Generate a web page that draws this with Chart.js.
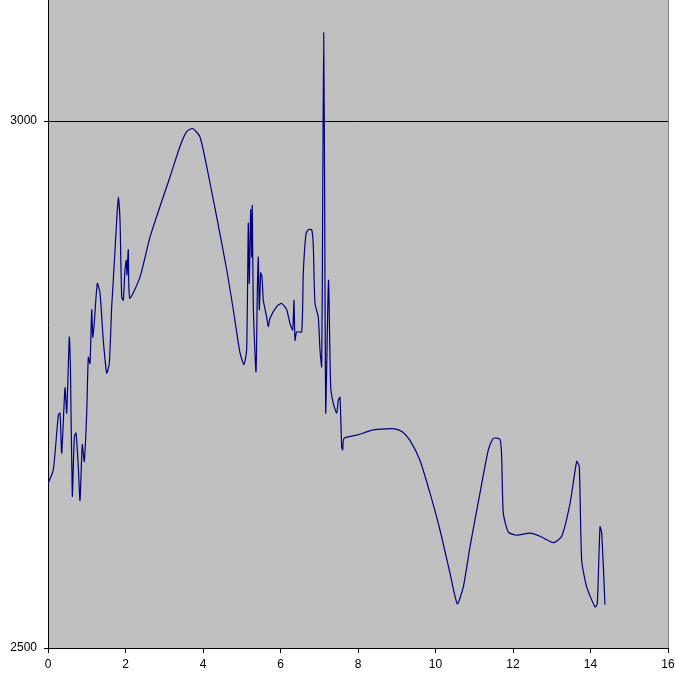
<!DOCTYPE html>
<html>
<head>
<meta charset="utf-8">
<script src="https://cdn.jsdelivr.net/npm/chart.js@4/dist/chart.umd.min.js"></script>
<style>
  html, body { margin: 0; padding: 0; background: #ffffff; }
  #chart { display: block; }
</style>
</head>
<body>
<canvas id="chart" width="675" height="675"></canvas>
<script>
const xValues = [
  0, 0.137, 0.266, 0.31, 0.354, 0.439, 0.483, 0.55, 0.58, 0.627,
  0.679, 0.723, 0.782, 0.826, 0.885, 0.937, 0.999, 1.04, 1.084, 1.128,
  1.154, 1.187, 1.272, 1.342, 1.427, 1.515, 1.582, 1.644, 1.685, 1.773,
  1.814, 1.858, 1.902, 1.943, 1.987, 2.021, 2.039, 2.072, 2.11, 2.374,
  2.632, 2.89, 3.148, 3.406, 3.579, 3.734, 3.923, 4.095, 4.354, 4.612,
  4.782, 4.955, 5.058, 5.127, 5.169, 5.195, 5.231, 5.257, 5.272, 5.298,
  5.368, 5.401, 5.427, 5.453, 5.489, 5.523, 5.556, 5.644, 5.685, 5.729,
  5.902, 6.031, 6.16, 6.245, 6.315, 6.348, 6.374, 6.418, 6.547, 6.588,
  6.658, 6.717, 6.805, 6.846, 6.89, 6.975, 7.019, 7.063, 7.089, 7.115,
  7.14, 7.166, 7.239, 7.295, 7.363, 7.45, 7.492, 7.535, 7.579, 7.605,
  7.639, 7.966, 8.395, 8.741, 8.95, 9.15, 9.342, 9.6, 9.858, 10.116, 10.374,
  10.563, 10.718, 10.89, 11.148, 11.363, 11.492, 11.665, 11.708, 11.75, 11.879,
  12.095, 12.439, 12.697, 13.04, 13.257, 13.471, 13.644, 13.711, 13.773, 13.902,
  14.116, 14.175, 14.245, 14.289, 14.374
];

const yValues = [
  2656, 2669, 2721, 2723, 2685, 2747, 2723, 2795, 2764, 2644,
  2700, 2704, 2672, 2640, 2693, 2677, 2723, 2776, 2770, 2821,
  2795, 2805, 2846, 2837, 2792, 2761, 2770, 2824, 2849, 2906,
  2928, 2906, 2833, 2830, 2859, 2868, 2854, 2878, 2832, 2852,
  2890, 2919, 2947, 2976, 2990, 2993, 2985, 2957, 2909, 2859,
  2821, 2780, 2769, 2783, 2903, 2846, 2916, 2871, 2920, 2824,
  2762, 2837, 2871, 2821, 2856, 2852, 2830, 2814, 2805, 2813,
  2824, 2827, 2821, 2808, 2802, 2830, 2792, 2800, 2800, 2856,
  2893, 2897, 2897, 2882, 2827, 2814, 2783, 2767, 2925, 3084,
  2925, 2723, 2849, 2748, 2732, 2723, 2735, 2738, 2691, 2688,
  2699, 2702, 2707, 2708, 2708, 2705, 2697, 2678, 2647, 2612, 2571,
  2542, 2558, 2596, 2647, 2688, 2699, 2698, 2681, 2628, 2610,
  2607, 2609, 2606, 2600, 2606, 2637, 2677, 2672, 2583, 2558,
  2539, 2542, 2615, 2609, 2541
];

const yTicks = [2500, 3000];
const yMin = 2500;
const yMax = 3115;
const xMin = 0;
const xMax = 16;
const xStep = 2;

const points = xValues.map((x, i) => ({ x: x, y: yValues[i] }));

// grey plot area plus the darker right edge
const plotBackground = {
  id: "plotBackground",
  beforeDraw(chart) {
    const { ctx, chartArea } = chart;
    ctx.save();
    ctx.fillStyle = "#c0c0c0";
    ctx.fillRect(chartArea.left, chartArea.top,
      chartArea.right - chartArea.left, chartArea.bottom - chartArea.top);
    ctx.strokeStyle = "#808080";
    ctx.lineWidth = 1;
    ctx.beginPath();
    ctx.moveTo(chartArea.right + 0.5, chartArea.top);
    ctx.lineTo(chartArea.right + 0.5, chartArea.bottom);
    ctx.stroke();
    ctx.restore();
  }
};

function noPadding(scale) {
  scale.paddingTop = 0;
  scale.paddingBottom = 0;
  scale.paddingLeft = 0;
  scale.paddingRight = 0;
}

new Chart(document.getElementById("chart"), {
  type: "line",
  data: {
    datasets: [{
      data: points,
      borderColor: "#000080",
      borderWidth: 1.2,
      pointRadius: 0,
      fill: false,
      tension: 0.2
    }]
  },
  options: {
    responsive: false,
    animation: false,
    devicePixelRatio: 1,
    layout: { padding: { top: 0, right: 7, left: 0, bottom: 0 } },
    plugins: {
      legend: { display: false },
      tooltip: { enabled: false }
    },
    scales: {
      x: {
        type: "linear",
        min: xMin,
        max: xMax,
        ticks: {
          stepSize: xStep,
          color: "#000000",
          padding: 4,
          maxRotation: 0,
          font: { family: "Liberation Sans", size: 12 }
        },
        grid: {
          drawOnChartArea: false,
          drawTicks: true,
          tickLength: 5,
          color: "#000000"
        },
        border: { color: "#000000", width: 1 },
        afterFit(scale) {
          scale.height = 27;
          noPadding(scale);
        }
      },
      y: {
        type: "linear",
        min: yMin,
        max: yMax,
        afterBuildTicks(scale) {
          scale.ticks = yTicks.map(v => ({ value: v }));
        },
        ticks: {
          color: "#000000",
          padding: 7,
          font: { family: "Liberation Sans", size: 12 },
          callback: v => String(v)
        },
        grid: {
          drawOnChartArea: true,
          drawTicks: true,
          tickLength: 4,
          color: "#000000"
        },
        border: { color: "#000000", width: 1 },
        afterFit(scale) {
          scale.width = 48;
          noPadding(scale);
        }
      }
    }
  },
  plugins: [plotBackground]
});
</script>
</body>
</html>
